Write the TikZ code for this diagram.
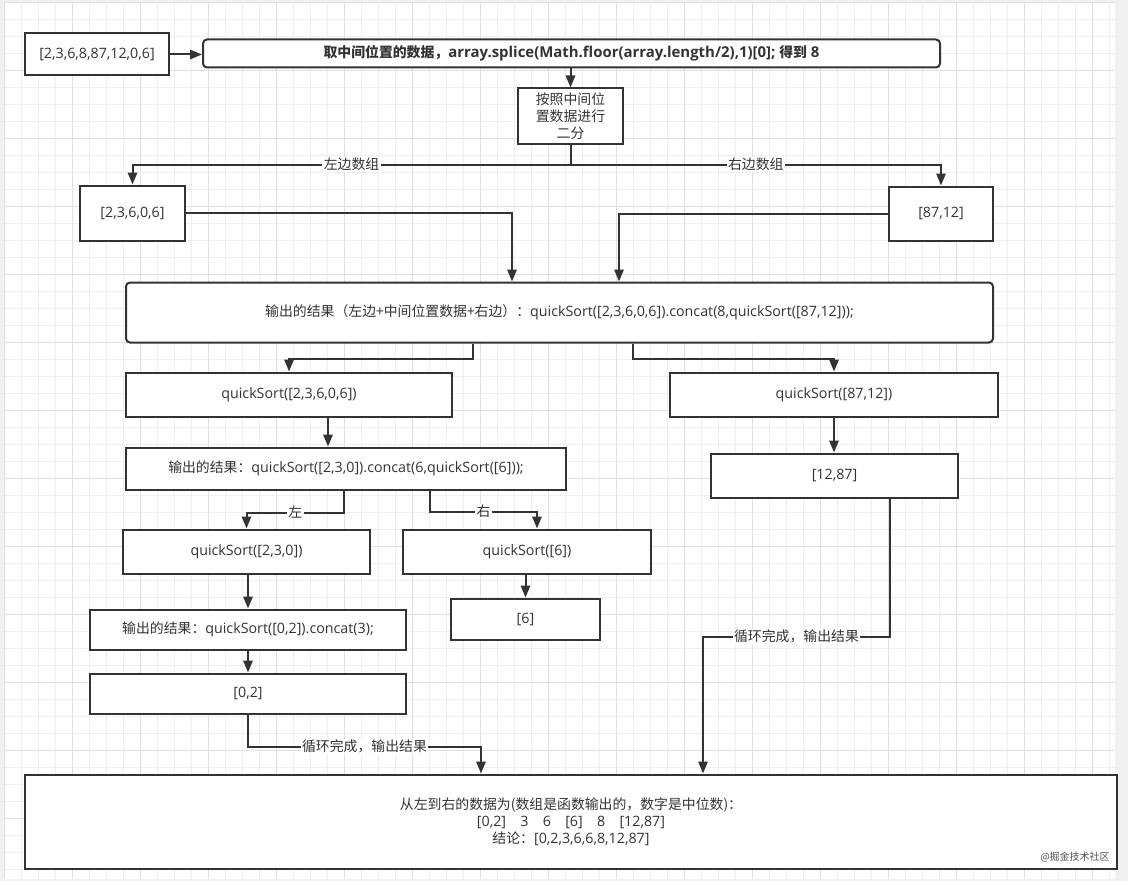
\documentclass[tikz,border=0pt]{standalone}
\usepackage{fontspec}
\setmainfont{Open Sans}
\newfontfamily\cjk{Noto Sans CJK SC}
\newcommand\zhs[1]{{\cjk\fontsize{10.4}{12.75}\selectfont #1}}
\usetikzlibrary{arrows.meta,calc}
\definecolor{ink}{HTML}{333333}
\definecolor{gridminor}{HTML}{EFEFEF}
\definecolor{gridmajor}{HTML}{E0E0E0}
\definecolor{outside}{HTML}{F1F1F1}
\begin{document}
\begin{tikzpicture}[x=0.75pt,y=-0.75pt,
  txt/.style={font=\fontsize{10.7}{12.75}\selectfont, text=ink},
  box/.style={txt, draw=ink, line width=1.5pt, fill=white, inner sep=0pt, align=center},
  rbox/.style={box, rounded corners=3pt},
  sz/.style n args={2}{minimum width=#1*0.75pt, minimum height=#2*0.75pt},
  conn/.style={draw=ink, line width=1.5pt, -{Triangle[length=9pt,width=7pt]}},
  lbl/.style={font=\cjk\fontsize{10.4}{12.75}\selectfont, text=ink, fill=white, inner sep=1pt},
  minorline/.style={draw=gridminor, line width=0.75pt},
  majorline/.style={draw=gridmajor, line width=0.75pt}
]
% background and grid
\useasboundingbox (0,0) rectangle (1128,881);
\fill[outside] (0,0) rectangle (1128,881);
\fill[white] (4,2) rectangle (1115,879);
\foreach \k in {0,...,65} \draw[minorline] (4.3+17*\k,2) -- (4.3+17*\k,879);
\foreach \k in {0,...,51} \draw[minorline] (4,2.5+17*\k) -- (1115,2.5+17*\k);
\foreach \k in {0,...,16} \draw[majorline] (4.3+68*\k,2) -- (4.3+68*\k,879);
\foreach \k in {0,...,12} \draw[majorline] (4,2.5+68*\k) -- (1115,2.5+68*\k);

% nodes
\node[box, sz={144}{42}] (A) at (97,54.5) {[2,3,6,8,87,12,0,6]};
\node[rbox, sz={737}{28}, font=\bfseries\fontsize{11.2}{12.75}\selectfont] (B) at (571.5,53.5)
  {\zhs{取中间位置的数据，}array.splice(Math.floor(array.length/2),1)[0]; \zhs{得到} 8};
\node[box, sz={105}{55}] (C) at (570.5,116) {\zhs{按照中间位}\\\zhs{置数据进行}\\\zhs{二分}};
\node[box, sz={105}{55}] (D) at (132.5,213) {[2,3,6,0,6]};
\node[box, sz={104}{54}] (E) at (941,213.5) {[87,12]};
\node[rbox, sz={867}{60}] (F) at (559.5,312.5)
  {\zhs{输出的结果（左边+中间位置数据+右边）：}quickSort([2,3,6,0,6]).concat(8,quickSort([87,12]));};
\node[box, sz={326}{44}] (G) at (289,394.5) {quickSort([2,3,6,0,6])};
\node[box, sz={328}{44}] (H) at (834,394.5) {quickSort([87,12])};
\node[box, sz={440}{42}] (I) at (346,468.5) {\zhs{输出的结果：}quickSort([2,3,0]).concat(6,quickSort([6]));};
\node[box, sz={247}{44}] (J) at (834.5,475.5) {[12,87]};
\node[box, sz={247}{44}] (K) at (246.5,551.5) {quickSort([2,3,0])};
\node[box, sz={248}{44}] (L) at (527,551.5) {quickSort([6])};
\node[box, sz={316}{40}] (M) at (248,629.5) {\zhs{输出的结果：}quickSort([0,2]).concat(3);};
\node[box, sz={149}{41}] (N) at (525.5,619) {[6]};
\node[box, sz={316}{40}] (O) at (248,693.5) {[0,2]};
\node[box, sz={1092}{94}] (P) at (571,821.5)
  {\zhs{从左到右的数据为(数组是函数输出的，数字是中位数)：}\\
   {}[0,2]\hspace{1em}3\hspace{1em}6\hspace{1em}[6]\hspace{1em}8\hspace{1em}[12,87]\\
   \zhs{结论：}[0,2,3,6,6,8,12,87]};
\node[anchor=east, font=\cjk\fontsize{7.5}{9}\selectfont, text=ink!85, inner sep=0pt] (wm) at (1110,857) {@掘金技术社区};

% helper coordinates on node borders
\path (C.south) ++(0,20) coordinate (c1);
\path (F.north west) ++(387,0) coordinate (f1);
\path (F.north west) ++(494,0) coordinate (f2);
\path (F.south west) ++(348,0) coordinate (fs1);
\path (F.south west) ++(508,0) coordinate (fs2);
\path (G.south west) ++(203,0) coordinate (gs);
\path (I.south west) ++(219,0) coordinate (is1);
\path (I.south west) ++(305,0) coordinate (is2);
\path (L.north west) ++(135,0) coordinate (ln);
\path (P.north west) ++(457,0) coordinate (p1);
\path (P.north west) ++(679,0) coordinate (p2);
\path (J.south west) ++(180,0) coordinate (js);

% connectors
\draw[conn] (A.east) -- (A.east -| B.west);
\draw[conn] (B.south -| C.north) -- (C.north);
\draw[draw=ink, line width=1.5pt] (C.south) -- (c1);
\draw[conn] (c1) -| node[lbl, pos=0.25] {左边数组} (D.north);
\draw[conn] (c1) -| node[lbl, pos=0.25] {右边数组} (E.north);
\draw[conn] (D.east) -| (f1);
\draw[conn] (E.west) -| (f2);
\draw[conn] (fs1) -- ++(0,15) -| (G.north);
\draw[conn] (fs2) -- ++(0,15) -| (H.north);
\draw[conn] (gs) -- (gs |- I.north);
\draw[conn] (H.south) -- (H.south |- J.north);
\draw[conn] (is1) -- ++(0,22) -| node[lbl, pos=0.25] {左} (K.north);
\draw[conn] (is2) -- ++(0,21) -| node[lbl, pos=0.25] {右} (ln);
\draw[conn] (K.south -| M.north) -- (M.north);
\draw[conn] (L.south -| N.north) -- (N.north);
\draw[conn] (M.south) -- (O.north);
\draw[conn] (O.south) -- ++(0,32) -| node[lbl, pos=0.25] {循环完成，输出结果} (p1);
\draw[conn] (js) -- ++(0,138) -| node[lbl, pos=0.25] {循环完成，输出结果} (p2);
\end{tikzpicture}
\end{document}
